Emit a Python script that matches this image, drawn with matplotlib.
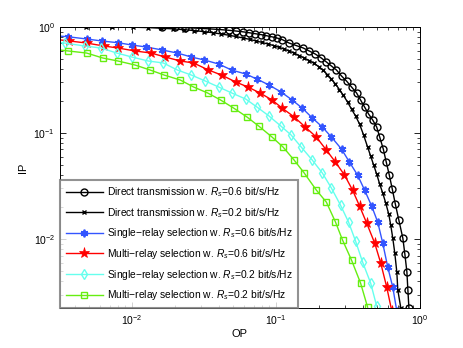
import matplotlib
matplotlib.use("Agg")
import matplotlib.pyplot as plt

plt.rcParams['font.family'] = ['Liberation Sans', 'DejaVu Sans']
plt.rcParams['mathtext.fontset'] = 'custom'
plt.rcParams['mathtext.rm'] = 'Liberation Sans'
plt.rcParams['mathtext.it'] = 'Liberation Sans:italic'

# Direct transmission, Rs = 0.6
op_dt06 = [0.001, 0.0162, 0.0200, 0.0235, 0.0276, 0.0319, 0.0368, 0.0419, 0.0469, 0.0525,
           0.0588, 0.0648, 0.0713, 0.0786, 0.0851, 0.0938, 0.1017, 0.1102, 0.1233, 0.1379,
           0.1545, 0.1701, 0.1874, 0.2064, 0.2238, 0.2425, 0.263, 0.2851, 0.309, 0.3345,
           0.3625, 0.3866, 0.4123, 0.4397, 0.469, 0.5003, 0.525, 0.556, 0.583, 0.612,
           0.642, 0.674, 0.713, 0.760, 0.785, 0.811, 0.824, 0.8375]
ip_dt06 = [1.0, 1.0, 0.9935, 0.985, 0.976, 0.966, 0.955, 0.943, 0.931, 0.917,
           0.901, 0.884, 0.866, 0.848, 0.830, 0.808, 0.787, 0.762, 0.706, 0.669,
           0.634, 0.594, 0.556, 0.510, 0.468, 0.429, 0.393, 0.345, 0.309, 0.272,
           0.239, 0.205, 0.176, 0.151, 0.133, 0.114, 0.0917, 0.0706, 0.0532, 0.0402,
           0.0296, 0.0214, 0.0151, 0.0102, 0.00722, 0.00489, 0.0033, 0.00224]

# Direct transmission, Rs = 0.2
op_dt02 = [0.001, 0.00477, 0.00725, 0.01016, 0.01294, 0.01595, 0.01936, 0.02311, 0.02715, 0.0314,
           0.0363, 0.0412, 0.0469, 0.0525, 0.0588, 0.0658, 0.0725, 0.0798, 0.0879, 0.0969,
           0.105, 0.1138, 0.1233, 0.1336, 0.1449, 0.157, 0.1701, 0.1845, 0.200, 0.2133,
           0.2274, 0.2425, 0.2588, 0.276, 0.294, 0.314, 0.3345, 0.3567, 0.3804, 0.4057,
           0.4327, 0.4542, 0.4767, 0.5003, 0.525, 0.551, 0.5781, 0.6067, 0.6263, 0.6471,
           0.6683, 0.6902, 0.7014, 0.736]
ip_dt02 = [1.0, 1.0, 0.999, 0.996, 0.987, 0.974, 0.960, 0.943, 0.925, 0.905,
           0.884, 0.861, 0.837, 0.814, 0.789, 0.764, 0.739, 0.716, 0.691, 0.667,
           0.643, 0.620, 0.594, 0.568, 0.538, 0.510, 0.483, 0.453, 0.419, 0.389,
           0.356, 0.323, 0.290, 0.257, 0.226, 0.196, 0.168, 0.145, 0.1216, 0.0958,
           0.0738, 0.0607, 0.0499, 0.0410, 0.0330, 0.0272, 0.0219, 0.0172, 0.01355, 0.0102,
           0.00738, 0.00489, 0.0033, 0.00224]

# Single-relay selection, Rs = 0.6
op_sr06 = [0.00279, 0.00357, 0.00484, 0.00617, 0.00798, 0.0100, 0.01253, 0.01622, 0.02065, 0.02588,
           0.03187, 0.0399, 0.0492, 0.0617, 0.0737, 0.0893, 0.1084, 0.1294, 0.152, 0.1786,
           0.2098, 0.2425, 0.2851, 0.3237, 0.3683, 0.4123, 0.4616, 0.5084, 0.551, 0.597,
           0.6471, 0.690]
ip_sr06 = [0.831, 0.81, 0.771, 0.738, 0.711, 0.676, 0.648, 0.607, 0.568, 0.521,
           0.488, 0.448, 0.393, 0.360, 0.323, 0.284, 0.244, 0.205, 0.172, 0.139,
           0.114, 0.0917, 0.0706, 0.0532, 0.0402, 0.0290, 0.0205, 0.0145, 0.00917, 0.00544,
           0.00352, 0.0021]

# Multi-relay selection, Rs = 0.6
op_mr06 = [0.00279, 0.00368, 0.00484, 0.00637, 0.00798, 0.0105, 0.01358, 0.01702, 0.02167, 0.02672,
           0.03398, 0.0419, 0.0525, 0.0637, 0.0773, 0.0938, 0.1102, 0.1336, 0.1596, 0.1905,
           0.2238, 0.2588, 0.299, 0.3399, 0.3804, 0.4258, 0.4845, 0.5337, 0.5875, 0.637]
ip_mr06 = [0.771, 0.738, 0.706, 0.662, 0.634, 0.594, 0.568, 0.521, 0.478, 0.458,
           0.393, 0.352, 0.303, 0.272, 0.239, 0.205, 0.172, 0.142, 0.114, 0.0917,
           0.0691, 0.0532, 0.0402, 0.0290, 0.0205, 0.0142, 0.00917, 0.00594, 0.00352, 0.0021]

# Single-relay selection, Rs = 0.2
op_sr02 = [0.00259, 0.0034, 0.00469, 0.00607, 0.00785, 0.0100, 0.01294, 0.0165, 0.02065, 0.02588,
           0.03238, 0.0399, 0.0492, 0.0617, 0.0737, 0.0893, 0.1084, 0.1274, 0.1496, 0.1786,
           0.2098, 0.2425, 0.2805, 0.3188, 0.3567, 0.3993, 0.4542, 0.5003]
ip_sr02 = [0.738, 0.706, 0.662, 0.634, 0.568, 0.521, 0.478, 0.458, 0.393, 0.352,
           0.309, 0.272, 0.239, 0.209, 0.176, 0.145, 0.116, 0.0958, 0.0738, 0.0556,
           0.042, 0.0303, 0.0209, 0.0145, 0.0096, 0.00607, 0.00385, 0.00233]

# Multi-relay selection, Rs = 0.2
op_mr02 = [0.00276, 0.00362, 0.00484, 0.00627, 0.00798, 0.0105, 0.01336, 0.01675, 0.02167, 0.02672,
           0.03345, 0.0412, 0.0508, 0.0627, 0.0761, 0.0938, 0.1119, 0.1336, 0.157, 0.1905,
           0.2238, 0.2588, 0.2897, 0.3345, 0.3866, 0.4327]
ip_mr02 = [0.620, 0.594, 0.568, 0.510, 0.478, 0.438, 0.393, 0.352, 0.316, 0.272,
           0.239, 0.205, 0.172, 0.142, 0.116, 0.0917, 0.0738, 0.0556, 0.042, 0.029,
           0.0223, 0.0145, 0.0098, 0.00634, 0.00385, 0.00228]

labels = [
    r"Direct transmission w. $R_s$=0.6 bit/s/Hz",
    r"Direct transmission w. $R_s$=0.2 bit/s/Hz",
    "Single\u2212relay selection w. $R_s$=0.6 bit/s/Hz",
    "Multi\u2212relay selection w. $R_s$=0.6 bit/s/Hz",
    "Single\u2212relay selection w. $R_s$=0.2 bit/s/Hz",
    "Multi\u2212relay selection w. $R_s$=0.2 bit/s/Hz",
]

fig = plt.figure(figsize=(4.64, 3.48), dpi=100)
ax = fig.add_axes([60 / 464, 40 / 348, 360 / 464, 281 / 348])

ax.plot(op_dt06, ip_dt06, color='k', lw=1.0, marker='o', ms=5, mfc='none', mew=1.0, label=labels[0])
ax.plot(op_dt02, ip_dt02, color='k', lw=1.0, marker='x', ms=3.5, mew=1.0, label=labels[1])
ax.plot(op_sr06, ip_sr06, color='#3355ff', lw=1.0, marker=(6, 2, 0), ms=5.5, mew=1.3, label=labels[2])
ax.plot(op_mr06, ip_mr06, color='#ff0000', lw=1.0, marker='*', ms=8, mew=0.5, label=labels[3])
ax.plot(op_sr02, ip_sr02, color='#66ffee', lw=1.0, marker='d', ms=5.5, mfc='none', mew=1.0, label=labels[4])
ax.plot(op_mr02, ip_mr02, color='#66ee11', lw=1.0, marker='s', ms=4.5, mfc='none', mew=1.0, label=labels[5])

ax.set_xscale('log')
ax.set_yscale('log')
ax.set_xlim(10 ** -2.5, 1)
ax.set_ylim(0.00224, 1)
ax.tick_params(which='both', direction='in', top=True, right=True, labelsize=7.5)
ax.tick_params(which='major', length=4, width=0.6)
ax.tick_params(which='minor', length=2, width=0.5)
for s in ax.spines.values():
    s.set_linewidth(0.7)

ax.set_xlabel('OP', fontsize=8, labelpad=2)
ax.set_ylabel('IP', fontsize=8, labelpad=4)

leg = ax.legend(loc='lower left', fontsize=7.4, frameon=True, fancybox=False,
                borderaxespad=0.0, handlelength=3.6, handletextpad=0.4,
                labelspacing=0.65, borderpad=0.55)
leg.get_frame().set_edgecolor('#777777')
leg.get_frame().set_linewidth(1.5)

fig.savefig('out.png', dpi=100)
